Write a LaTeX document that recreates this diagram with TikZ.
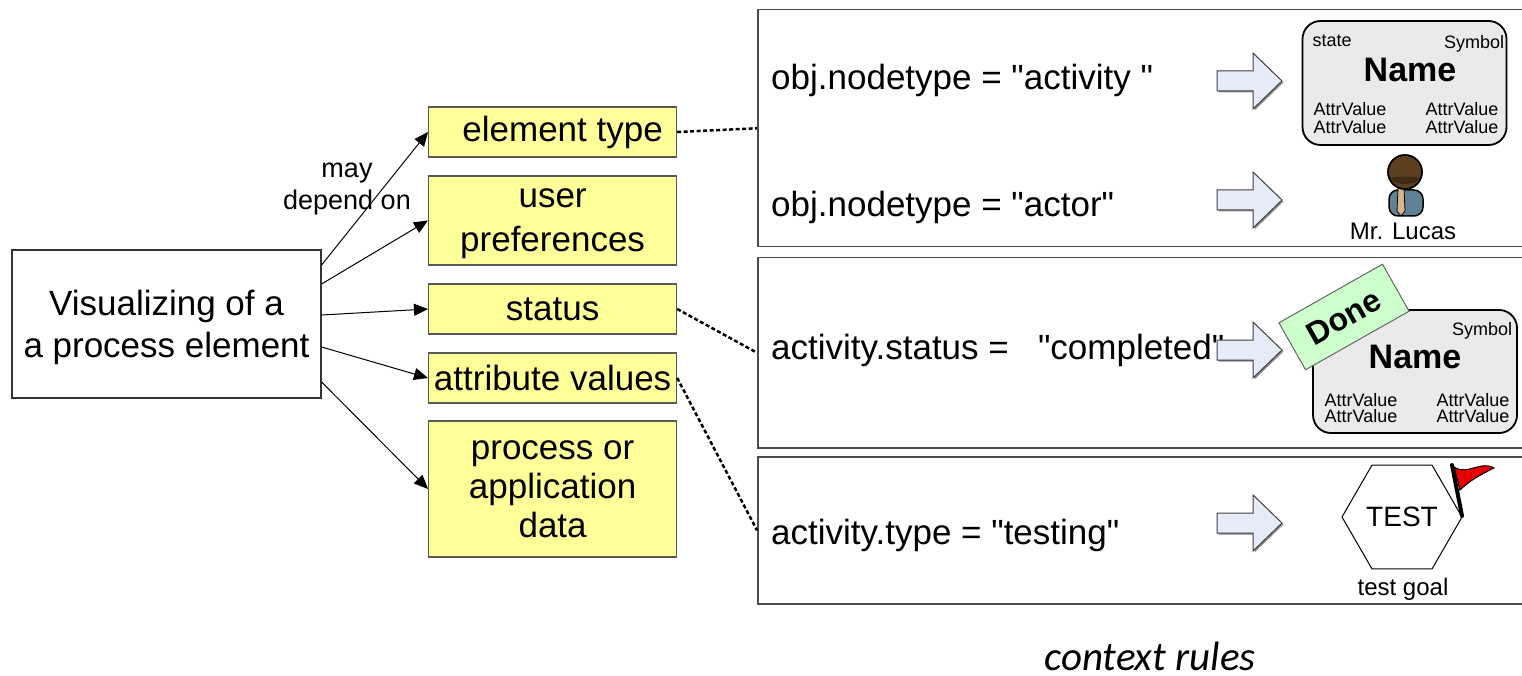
\documentclass[tikz,border=0pt]{standalone}
\usepackage{fontspec}
\setmainfont{Liberation Sans}
\newfontfamily\calibrifont{Carlito}
\usetikzlibrary{arrows.meta, shapes.geometric, positioning}

\definecolor{boxyellow}{HTML}{FFFF99}
\definecolor{arrowfill}{HTML}{E6ECF7}
\definecolor{cardgray}{HTML}{EAEAEA}
\definecolor{donegreen}{HTML}{CCFFCC}
\definecolor{hairbrown}{HTML}{5E4020}
\definecolor{facebrown}{HTML}{3F2A14}
\definecolor{suitblue}{HTML}{5F8296}
\definecolor{tietan}{HTML}{D9B48C}
\definecolor{flagred}{HTML}{E60000}

\newcommand{\fs}[2]{\fontsize{#1}{#2}\selectfont}
\newcommand{\dq}{\textquotedbl}

\begin{document}
\begin{tikzpicture}[x=1pt, y=-1pt,
        dep/.style={-{Triangle[length=14pt, width=12pt]}, line width=1pt},
        link/.style={line width=2.5pt, dash pattern=on 4pt off 2.5pt},
        factor/.style={draw=black!65, fill=boxyellow, line width=1.2pt, anchor=west,
            minimum width=248pt, inner sep=0pt, align=center, font=\fs{35}{40}},
        rulebox/.style={draw=black!70, line width=1.5pt, anchor=north west,
            minimum width=820pt, inner sep=0pt},
        ruletext/.style={anchor=west, inner sep=0pt, font=\fs{35}{40}},
        card/.style={draw=black, fill=cardgray, line width=1.8pt, rounded corners=18pt,
            minimum width=204pt, inner sep=0pt},
        small/.style={inner sep=0pt, align=center, font=\fs{18}{18}},
        caption/.style={inner sep=0pt, font=\fs{24}{28}}
    ]

    \useasboundingbox (0,0) rectangle (1522,676);

    % element to be visualized and what it depends on
    \node[draw=black!80, line width=1.2pt, minimum width=309pt, minimum height=148pt,
        align=center, text depth=-6pt, font=\fs{35}{42}] (vis) at (166.5,324) {Visualizing of a\\a process element};

    \node[factor, minimum height=50pt] (etype) at (428,132) {\hspace{20pt}element type};
    \node[factor, minimum height=89pt, text depth=-2pt, font=\fs{35}{44}] (prefs) at (428,220.5) {user\\preferences};
    \node[factor, minimum height=50pt] (status) at (428,309) {status};
    \node[factor, minimum height=50pt] (attrs) at (428,378) {attribute values};
    \node[factor, minimum height=136pt, text depth=-2pt, font=\fs{35}{39}] (appdata) at (428,489) {process or\\application\\data};

    \draw[dep] ([yshift=59pt]vis.east) -- (etype.west);
    \draw[dep] ([yshift=40pt]vis.east) -- (prefs.west);
    \draw[dep] ([yshift=9pt]vis.east) -- (status.west);
    \draw[dep] ([yshift=-23pt]vis.east) -- (attrs.west);
    \draw[dep] ([yshift=-58pt]vis.east) -- (appdata.west);

    \node[inner sep=0pt, align=center, font=\fs{27}{32}] (maydep) at (347,189) {may\\depend on};

    % context rules
    \node[rulebox, minimum height=237pt] (rule1) at (757,9) {};
    \node[rulebox, minimum height=190pt] (rule2) at (757,257) {};
    \node[rulebox, minimum height=147pt] (rule3) at (757,456) {};

    \draw[link] (etype.east) -- (rule1.west);
    \draw[link] (status.east) -- (rule2.west);
    \draw[link] (attrs.east) -- (rule3.west);

    \node[ruletext] (r1a) at (771,80) {obj.nodetype = \dq activity \dq};
    \node[ruletext] (r1b) at (771,207) {obj.nodetype = \dq actor\dq};
    \node[ruletext] (r2) at (771,350) {activity.status = \ \ \dq completed\dq};
    \node[ruletext] (r3) at (771,535) {activity.type = \dq testing\dq};

    % block arrows
    \foreach \ay in {81,200,350,523} {
        \fill[black!45] (1218.5,\ay+1.5) ++(0,-10) -- ++(36,0) -- ++(0,-18) -- ++(29,28)
            -- ++(-29,28) -- ++(0,-18) -- ++(-36,0) -- cycle;
        \filldraw[fill=arrowfill, draw=black!75, line width=1pt]
            (1217,\ay) ++(0,-10) -- ++(36,0) -- ++(0,-18) -- ++(29,28)
            -- ++(-29,28) -- ++(0,-18) -- ++(-36,0) -- cycle;
    }

    % activity card
    \node[card, minimum height=124pt] (card1) at (1404.5,83) {};
    \node[small] (state1) at (1332,41) {state};
    \node[small] (sym1) at (1474,44) {Symbol};
    \node[inner sep=0pt, font=\fs{34}{34}\bfseries] (name1) at (1410,70) {Name};
    \node[small, font=\fs{18}{18}] (attl1) at (1350,118) {AttrValue\\AttrValue};
    \node[small, font=\fs{18}{18}] (attr1) at (1462,118) {AttrValue\\AttrValue};

    % actor
    \filldraw[fill=suitblue, draw=black, line width=1.5pt, rounded corners=9pt]
        (1389,216) -- (1389,190) -- (1423,190) -- (1423,216) -- cycle;
    \filldraw[fill=tietan, draw=black, line width=0.8pt]
        (1398,188) -- (1404,188) -- (1405,211) -- (1401,216) -- (1397,211) -- cycle;
    \filldraw[fill=hairbrown, draw=black, line width=1.5pt] (1405,172) circle (17);
    \fill[facebrown] (1390,178) .. controls (1396,176) and (1414,176) .. (1420,178)
        .. controls (1416,186) and (1394,186) .. (1390,178) -- cycle;
    \draw[black, line width=1.5pt] (1405,172) circle (17);
    \node[caption] (lucas) at (1403,231) {Mr. Lucas};

    % completed activity card
    \node[card, minimum height=123pt] (card2) at (1415,371.5) {};
    \node[small] (sym2) at (1482,331) {Symbol};
    \node[inner sep=0pt, font=\fs{34}{34}\bfseries] (name2) at (1415,357) {Name};
    \node[small, font=\fs{18}{16}] (attl2) at (1361,408) {AttrValue\\AttrValue};
    \node[small, font=\fs{18}{16}] (attr2) at (1473,408) {AttrValue\\AttrValue};
    \node[draw=black!60, fill=donegreen, line width=1pt, rotate=29.5, minimum width=119pt,
        minimum height=54pt, inner sep=0pt, font=\fs{32}{32}\bfseries] (done) at (1344,317) {Done};

    % test goal
    \node[regular polygon, regular polygon sides=6, draw=black, line width=1pt,
        minimum size=120pt, inner sep=0pt, font=\fs{28}{28}] (goal) at (1402,517) {TEST};
    \filldraw[fill=flagred, draw=black, line width=1pt]
        (1454,467) .. controls (1468,476) and (1480,460) .. (1494,468)
        .. controls (1482,474) and (1470,480) .. (1460,490) -- cycle;
    \draw[black, line width=4pt, line cap=round] (1452,465) -- (1462,516);
    \node[caption] (goalname) at (1403,589) {test goal};

    \node[inner sep=0pt, font=\calibrifont\itshape\fs{41}{41}] (ctxrules) at (1150,656) {context rules};

\end{tikzpicture}
\end{document}
